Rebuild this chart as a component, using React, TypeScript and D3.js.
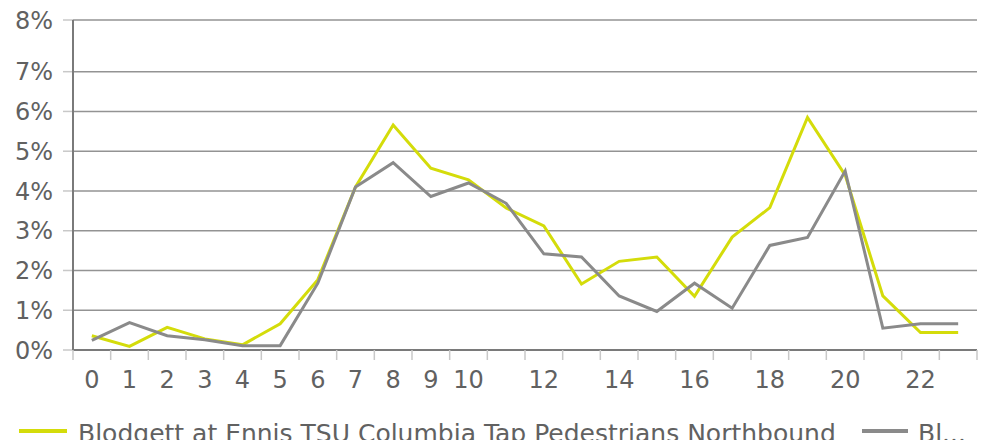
import React, { useRef, useEffect } from 'react';
import * as d3 from 'd3';

const hours = d3.range(0, 24).map(String);
const shownHourLabels = ['0', '1', '2', '3', '4', '5', '6', '7', '8', '9', '10', '12', '14', '16', '18', '20', '22'];

const northbound = [0.36, 0.09, 0.57, 0.28, 0.13, 0.66, 1.77, 4.1, 5.66, 4.57, 4.28, 3.57, 3.12, 1.66, 2.23, 2.34, 1.35, 2.84, 3.58, 5.85, 4.4, 1.36, 0.44, 0.44];
const southbound = [0.24, 0.69, 0.36, 0.26, 0.11, 0.11, 1.68, 4.1, 4.71, 3.86, 4.2, 3.69, 2.42, 2.34, 1.36, 0.97, 1.68, 1.05, 2.63, 2.83, 4.5, 0.55, 0.66, 0.66];

const yTicks = [0, 1, 2, 3, 4, 5, 6, 7, 8.3];
const Y_MAX = 8.3;

const seriesNames = ['Blodgett at Ennis TSU Columbia Tap Pedestrians Northbound', 'Bl...'];
const seriesColors = ['#d4dc0a', '#8a8a8a'];

const WIDTH = 987;
const HEIGHT = 448;
const FONT = '"DejaVu Sans", Verdana, sans-serif';
const TEXT_COLOR = '#616161';

export default function App() {
  const svgRef = useRef<SVGSVGElement>(null);

  useEffect(() => {
    if (!svgRef.current) return;
    const svg = d3.select(svgRef.current);
    svg.selectAll('*').remove();

    const left = 73;
    const right = 977;
    const top = 20;
    const bottom = 350;

    const x = d3.scaleBand<string>().domain(hours).range([left, right]);
    const y = d3.scaleLinear().domain([0, Y_MAX]).range([bottom, top]);

    // horizontal grid lines + tick marks
    yTicks.forEach((t) => {
      svg.append('line')
        .attr('x1', left - 10).attr('x2', left)
        .attr('y1', y(t)).attr('y2', y(t))
        .attr('stroke', '#c8c8c8').attr('stroke-width', 1.5);
      if (t > 0) {
        svg.append('line')
          .attr('x1', left).attr('x2', right)
          .attr('y1', y(t)).attr('y2', y(t))
          .attr('stroke', '#939393').attr('stroke-width', 1.5);
      }
      svg.append('text')
        .attr('x', 53)
        .attr('y', y(t))
        .attr('dy', '0.36em')
        .attr('text-anchor', 'end')
        .attr('font-family', FONT)
        .attr('font-size', 24)
        .attr('fill', TEXT_COLOR)
        .text(`${Math.floor(t)}%`);
    });

    // x axis
    svg.append('line')
      .attr('x1', left).attr('x2', right)
      .attr('y1', bottom).attr('y2', bottom)
      .attr('stroke', '#7a7a7a').attr('stroke-width', 2);
    const bandEdges = hours.map((h) => x(h) as number).concat([right]);
    bandEdges.forEach((bx) => {
      svg.append('line')
        .attr('x1', bx).attr('x2', bx)
        .attr('y1', bottom).attr('y2', bottom + 10)
        .attr('stroke', '#c8c8c8').attr('stroke-width', 1.5);
    });
    shownHourLabels.forEach((h) => {
      svg.append('text')
        .attr('x', (x(h) as number) + x.bandwidth() / 2)
        .attr('y', 388)
        .attr('text-anchor', 'middle')
        .attr('font-family', FONT)
        .attr('font-size', 24)
        .attr('fill', TEXT_COLOR)
        .text(h);
    });

    // y axis line
    svg.append('line')
      .attr('x1', left).attr('x2', left)
      .attr('y1', top).attr('y2', bottom)
      .attr('stroke', '#7a7a7a').attr('stroke-width', 2);

    const line = d3.line<number>()
      .x((_d, i) => (x(hours[i]) as number) + x.bandwidth() / 2)
      .y((d) => y(d));

    [northbound, southbound].forEach((data, i) => {
      svg.append('path')
        .datum(data)
        .attr('d', line)
        .attr('fill', 'none')
        .attr('stroke', seriesColors[i])
        .attr('stroke-width', 3)
        .attr('stroke-linejoin', 'miter');
    });

    // legend
    const legendItems = [
      { x1: 19, x2: 67, tx: 78 },
      { x1: 862, x2: 908, tx: 918 },
    ];
    legendItems.forEach((item, i) => {
      svg.append('line')
        .attr('x1', item.x1).attr('x2', item.x2)
        .attr('y1', 431).attr('y2', 431)
        .attr('stroke', seriesColors[i]).attr('stroke-width', 4);
      svg.append('text')
        .attr('x', item.tx)
        .attr('y', 442)
        .attr('font-family', FONT)
        .attr('font-size', 25)
        .attr('fill', TEXT_COLOR)
        .text(seriesNames[i]);
    });
  }, []);

  return (
    <div style={{ margin: -8 }}>
      <svg ref={svgRef} width={WIDTH} height={HEIGHT} style={{ display: 'block', background: '#fff' }} />
    </div>
  );
}
